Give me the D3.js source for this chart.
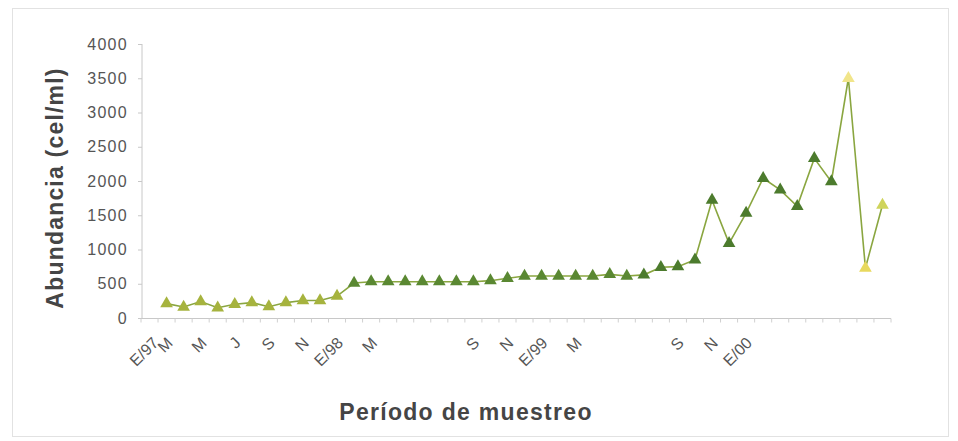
<!DOCTYPE html>
<html><head><meta charset="utf-8">
<script src="https://cdn.jsdelivr.net/npm/d3@7/dist/d3.min.js"></script>
<style>html,body{margin:0;padding:0;background:#fff;}svg{display:block;font-family:"Liberation Sans",Arial,sans-serif;}</style>
</head><body>
<svg id="c" width="958" height="441"></svg>
<script>
// category labels (monthly sampling; blanks are unlabeled months)
const categories = ["E/97","M","","M","","J","","S","","N","","E/98","","M","","","","","","S","","N","","E/99","","M","","","","","","S","","N","","E/00","","","","","","","",""];
// abundance (cel/ml); null = no sample
const values = [null,210,160,240,150,200,225,165,225,255,255,320,510,530,530,530,530,530,530,530,545,580,613,613,613,613,613,637,613,630,740,750,850,1720,1090,1530,2040,1870,1630,2330,1990,3500,730,1650];
const yTicks = [0,500,1000,1500,2000,2500,3000,3500,4000];

const svg = d3.select("#c");
svg.append("rect").attr("x",12.5).attr("y",8.5).attr("width",936).attr("height",428)
  .attr("fill","none").attr("stroke","#e2e2e2");

const x = d3.scaleBand().domain(d3.range(categories.length)).range([141,891]).padding(0);
const y = d3.scaleLinear().domain([0,4000]).range([318,44]);
const cx = i => x(i) + x.bandwidth()/2;

// y axis
const ya = svg.append("g").attr("transform","translate(142,0)")
  .call(d3.axisLeft(y).tickValues(yTicks).tickSize(4).tickPadding(10).tickFormat(d3.format("d")));
ya.select(".domain").attr("stroke","#c8c8c8").attr("d","M0,"+y(0)+"V"+y(4000));
ya.selectAll(".tick line").attr("stroke","#c8c8c8");
ya.selectAll("text").attr("fill","#555").style("font-size","16px").style("letter-spacing","1.3px");

// x axis
const xa = svg.append("g").attr("transform","translate(0,318.5)");
xa.append("line").attr("x1",141).attr("x2",891).attr("stroke","#c8c8c8");
xa.selectAll("line.t").data(d3.range(categories.length+1)).join("line").attr("class","t")
  .attr("x1",i=>x.step()*i+141).attr("x2",i=>x.step()*i+141).attr("y1",0).attr("y2",4)
  .attr("stroke","#d0d0d0");
svg.selectAll("text.lab").data(categories.map((c,i)=>({c,i})).filter(d=>d.c)).join("text")
  .attr("class","lab")
  .attr("transform",d=>"translate(" + (cx(d.i)+(d.i===0?6:3)).toFixed(1) + ",340) rotate(-45)")
  .attr("text-anchor","end").attr("dy","0.35em")
  .attr("fill","#555").style("font-size","16px").text(d=>d.c);

// line
const pts = values.map((v,i)=>({v,i})).filter(d=>d.v!=null);
const line = d3.line().x(d=>cx(d.i)).y(d=>y(d.v));
svg.append("path").datum(pts).attr("d",line).attr("fill","none")
  .attr("stroke","#8aa640").attr("stroke-width",1.6);

// marker colours by position in the series
const colorFor = (d,k) => {
  if (d.v >= 3000) return "#f1e58a";
  if (k >= pts.length-2) return k===pts.length-2 ? "#e8d95e" : "#cfd45c";
  if (k <= 10) return "#a6b33e";
  if (k <= 27) return "#5a8832";
  return "#4c7b2d";
};
svg.selectAll("path.m").data(pts).join("path").attr("class","m")
  .attr("d",d3.symbol(d3.symbolTriangle,70))
  .attr("transform",d=>`translate(${cx(d.i)},${y(d.v)})`)
  .attr("fill",(d,k)=>colorFor(d,k));

// titles
svg.append("text").attr("transform","translate(63,188) rotate(-90)").attr("text-anchor","middle")
  .attr("fill","#454545").style("font-size","23px").style("font-weight","bold").style("letter-spacing","1.2px")
  .text("Abundancia (cel/ml)");
svg.append("text").attr("x",466).attr("y",420).attr("text-anchor","middle")
  .attr("fill","#454545").style("font-size","23px").style("font-weight","bold").style("letter-spacing","1.3px")
  .text("Período de muestreo");
</script>
</body></html>
